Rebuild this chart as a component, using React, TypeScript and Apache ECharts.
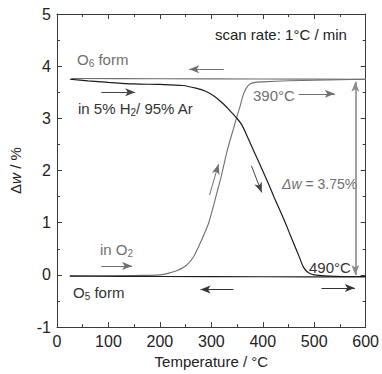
import React, { useEffect, useRef } from "react";
import * as echarts from "echarts";

// O2 heating (O5 form -> O6 form), grey
const heatO2T = [25, 80, 150, 200, 220, 235, 251, 265, 276, 286, 295, 303, 311, 318, 324, 330, 337, 343, 349, 355, 362, 368, 375, 385, 400, 450, 500, 550, 600];
const heatO2W = [-0.03, -0.02, -0.01, 0.0, 0.04, 0.09, 0.18, 0.34, 0.56, 0.78, 1.0, 1.28, 1.58, 1.84, 2.09, 2.35, 2.6, 2.8, 3.01, 3.2, 3.45, 3.58, 3.66, 3.69, 3.7, 3.72, 3.73, 3.74, 3.75];
// O2 cooling, grey
const coolO2T = [600, 400, 200, 28];
const coolO2W = [3.75, 3.755, 3.76, 3.765];
// 5% H2 heating, black
const heatH2T = [25, 60, 100, 150, 200, 244, 270, 289, 305, 321, 335, 349, 359, 371, 384, 397, 410, 422, 435, 445, 454, 462, 470, 479, 489, 500, 520, 560, 600];
const heatH2W = [3.75, 3.72, 3.69, 3.66, 3.65, 3.63, 3.58, 3.52, 3.43, 3.3, 3.16, 3.01, 2.88, 2.63, 2.34, 2.06, 1.77, 1.49, 1.2, 0.97, 0.75, 0.56, 0.37, 0.15, 0.04, 0.0, -0.02, -0.03, -0.03];
// 5% H2 cooling, black
const coolH2T = [600, 400, 200, 25];
const coolH2W = [-0.04, -0.035, -0.03, -0.02];

const xTicks = [0, 100, 200, 300, 400, 500, 600];
const yTicks = [-1, 0, 1, 2, 3, 4, 5];

const GREY = "#6f6f6f";
const BLACK = "#1c1c1c";
const DARK = "#333";
const FONT = "Liberation Sans, Arial, sans-serif";

const zip = (a: number[], b: number[]) => a.map((v, i) => [v, b[i]]);

const arrow = (x1: number, y1: number, x2: number, y2: number, color: string, both = false, width = 1) => [
  {
    coord: [x1, y1],
    symbol: both ? "arrow" : "none",
    lineStyle: { color, width, type: "solid" },
  },
  { coord: [x2, y2], symbol: "arrow" },
];

const subText = (left: number, top: number, text: string, color: string, size = 15) => ({
  type: "text",
  left,
  top,
  style: {
    text,
    fill: color,
    rich: {
      a: { fill: color, fontSize: size, fontFamily: FONT },
      s: { fill: color, fontSize: 10, fontFamily: FONT, padding: [7, 0, 0, 0] },
      i: { fill: color, fontSize: size, fontFamily: FONT, fontStyle: "italic" },
    },
  },
});

export default function App() {
  const ref = useRef<HTMLDivElement>(null);
  useEffect(() => {
    if (!ref.current) return;
    const chart = echarts.init(ref.current, undefined, { renderer: "svg" });
    const axisLine = { show: true, onZero: false, lineStyle: { color: "#3a3a3a", width: 1 } };
    const tickStyle = { color: "#3a3a3a", width: 1 };
    const commonX = {
      type: "value",
      min: 0,
      max: 600,
      interval: 100,
      splitLine: { show: false },
      axisLine,
      axisTick: { show: true, inside: true, length: 5, lineStyle: tickStyle },
      minorTick: { show: true, splitNumber: 2, length: 3, lineStyle: tickStyle },
    };
    const commonY = {
      type: "value",
      min: -1,
      max: 5,
      interval: 1,
      splitLine: { show: false },
      axisLine,
      axisTick: { show: true, inside: true, length: 5, lineStyle: tickStyle },
      minorTick: { show: true, splitNumber: 2, length: 3, lineStyle: tickStyle },
    };
    const lineSeries = (name: string, t: number[], w: number[], color: string, width: number, marks: any[]) => ({
      type: "line",
      name,
      data: zip(t, w),
      showSymbol: false,
      symbol: "none",
      smooth: 0.3,
      lineStyle: { color, width },
      markLine: {
        silent: true,
        symbol: ["none", "arrow"],
        symbolSize: [6, 10],
        label: { show: false },
        data: marks,
      },
    });
    chart.setOption({
      animation: false,
      grid: { left: 55, right: 12, top: 14, bottom: 46 },
      xAxis: [
        {
          ...commonX,
          position: "bottom",
          name: "Temperature / °C",
          nameLocation: "middle",
          nameGap: 23,
          nameTextStyle: { fontFamily: FONT, fontSize: 15, color: "#222" },
          axisLabel: {
            fontFamily: FONT,
            fontSize: 16,
            color: "#222",
            margin: 6,
            formatter: (v: number) => (xTicks.includes(v) ? String(v) : ""),
          },
        },
        { ...commonX, position: "top", axisLabel: { show: false } },
      ],
      yAxis: [
        {
          ...commonY,
          position: "left",
          name: "{d|Δ}{i|w}{d| / %}",
          nameLocation: "middle",
          nameGap: 34,
          nameRotate: 90,
          nameTextStyle: {
            fontFamily: FONT,
            fontSize: 15,
            color: "#222",
            rich: {
              d: { fontFamily: FONT, fontSize: 15, color: "#222" },
              i: { fontFamily: FONT, fontSize: 15, color: "#222", fontStyle: "italic" },
            },
          },
          axisLabel: {
            fontFamily: FONT,
            fontSize: 16,
            color: "#222",
            margin: 6,
            formatter: (v: number) => (yTicks.includes(v) ? String(v) : ""),
          },
        },
        { ...commonY, position: "right", axisLabel: { show: false } },
      ],
      series: [
        lineSeries("O2 heating", heatO2T, heatO2W, GREY, 1.1, [
          arrow(296.5, 1.53, 314, 2.12, GREY),
          arrow(470, 3.47, 540, 3.47, GREY),
          arrow(86, 0.17, 146, 0.17, GREY),
        ]),
        lineSeries("O2 cooling", coolO2T, coolO2W, GREY, 1.1, [
          arrow(324, 3.94, 257, 3.94, GREY),
          arrow(580, 0.0, 580, 3.7, "#8a8a8a", true, 1.6),
        ]),
        lineSeries("H2 heating", heatH2T, heatH2W, BLACK, 1.2, [
          arrow(86, 3.5, 152, 3.5, "#444"),
          arrow(378, 2.09, 398, 1.58, "#444"),
          arrow(514, -0.25, 579, -0.25, DARK),
        ]),
        lineSeries("H2 cooling", coolH2T, coolH2W, BLACK, 1.2, [
          arrow(343, -0.28, 279, -0.28, DARK),
        ]),
      ],
      graphic: [
        { type: "text", left: 215, top: 27, style: { text: "scan rate: 1°C / min", fill: "#222", font: `15px ${FONT}` } },
        subText(77, 52, "{a|O}{s|6}{a| form}", GREY),
        subText(78, 101, "{a|in 5% H}{s|2}{a|/ 95% Ar}", DARK),
        { type: "text", left: 253, top: 88, style: { text: "390°C", fill: GREY, font: `15px ${FONT}` } },
        subText(282, 177, "{i|Δw}{a| = 3.75%}", GREY, 14),
        { type: "text", left: 309, top: 260, style: { text: "490°C", fill: DARK, font: `15px ${FONT}` } },
        subText(100, 242, "{a|in O}{s|2}", GREY),
        subText(73, 285, "{a|O}{s|5}{a| form}", DARK),
      ],
    });
    return () => chart.dispose();
  }, []);
  return <div ref={ref} style={{ width: 382, height: 374, position: "absolute", left: 0, top: 0 }} />;
}
